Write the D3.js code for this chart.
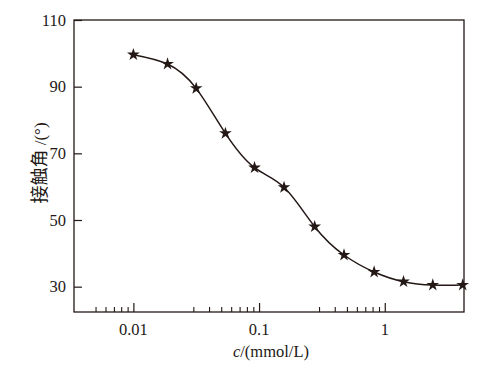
<!DOCTYPE html>
<html><head><meta charset="utf-8">
<script src="https://cdn.jsdelivr.net/npm/d3@7"></script>
<style>body{margin:0;background:#fff}</style>
</head><body>
<svg id="c" width="482" height="365"></svg>
<script>
const conc = [0.01, 0.0187, 0.0316, 0.054, 0.092, 0.158, 0.277, 0.474, 0.823, 1.41, 2.41, 4.17];
const angle = [99.6, 96.8, 89.5, 76.0, 65.7, 59.8, 48.0, 39.5, 34.4, 31.5, 30.5, 30.5];
const yTicks = [30, 50, 70, 90, 110];
const xMajor = [0.01, 0.1, 1];
const xMajorLabels = ["0.01", "0.1", "1"];
const xMinor = [0.005,0.006,0.007,0.008,0.009,0.03,0.04,0.05,0.06,0.07,0.08,0.09,0.3,0.4,0.5,0.6,0.7,0.8,0.9];

const L = 74, R = 464, T = 20, B = 312;
const svg = d3.select("#c");
const x = d3.scaleLog().domain([0.00337, 4.27]).range([L, R]);
const y = d3.scaleLinear().domain([22.4, 110]).range([B, T]);
const serif = "'Liberation Serif','Times New Roman',serif";
const ink = "#231815";

// frame
svg.append("rect").attr("x", L).attr("y", T).attr("width", R - L).attr("height", B - T)
  .attr("fill", "none").attr("stroke", ink).attr("stroke-width", 1.3);

// y axis
const yAxis = d3.axisRight(y).tickValues(yTicks).tickSize(8).tickFormat("");
const gy = svg.append("g").attr("transform", `translate(${L},0)`).call(yAxis);
gy.select(".domain").remove();
gy.selectAll("line").attr("stroke", ink).attr("stroke-width", 1.2);
svg.selectAll(".ylab").data(yTicks).enter().append("text")
  .attr("x", 66).attr("y", d => y(d)).attr("dy", "0.35em")
  .attr("text-anchor", "end").attr("font-family", serif).attr("font-size", 16.5).attr("fill", ink)
  .text(d => d);

// x axis major
const gx = svg.append("g").attr("transform", `translate(0,${B})`)
  .call(d3.axisTop(x).tickValues(xMajor).tickSize(9).tickFormat(""));
gx.select(".domain").remove();
gx.selectAll("line").attr("stroke", ink).attr("stroke-width", 1.2);
const gx2 = svg.append("g").attr("transform", `translate(0,${B})`)
  .call(d3.axisTop(x).tickValues(xMinor).tickSize(5).tickFormat(""));
gx2.select(".domain").remove();
gx2.selectAll("line").attr("stroke", ink).attr("stroke-width", 1.1);
svg.selectAll(".xlab").data(xMajor).enter().append("text")
  .attr("x", d => x(d)).attr("y", 335)
  .attr("text-anchor", "middle").attr("font-family", serif).attr("font-size", 16.5).attr("fill", ink)
  .text((d, i) => xMajorLabels[i]);

// axis titles
const xt = svg.append("text").attr("x", 271).attr("y", 357).attr("text-anchor", "middle")
  .attr("font-family", serif).attr("font-size", 16.5).attr("fill", ink);
xt.append("tspan").attr("font-style", "italic").text("c");
xt.append("tspan").text("/(mmol/L)");

const yt = svg.append("text").attr("transform", "translate(46,163) rotate(-90)")
  .attr("text-anchor", "middle").attr("fill", ink).attr("font-size", 17);
yt.append("tspan").attr("font-family", "'Noto Sans CJK SC',sans-serif").attr("font-size", 18).text("接触角");
yt.append("tspan").attr("font-family", serif).text(" /(°)");

// curve
const pts = conc.map((c, i) => [x(c), y(angle[i])]);
svg.append("path").attr("d", d3.line().curve(d3.curveNatural)(pts))
  .attr("fill", "none").attr("stroke", ink).attr("stroke-width", 1.5);

// stars
svg.selectAll(".pt").data(pts).enter().append("path")
  .attr("transform", d => `translate(${d[0]},${d[1]})`)
  .attr("d", d3.symbol().type(d3.symbolStar).size(50)())
  .attr("fill", ink);
</script>
</body></html>
